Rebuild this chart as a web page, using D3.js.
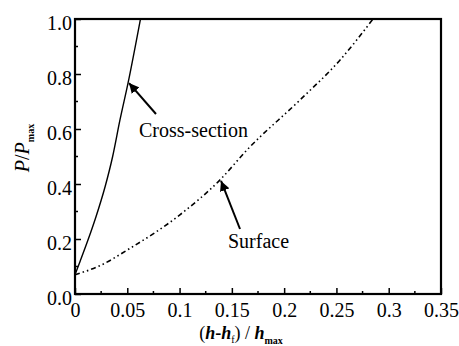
<!DOCTYPE html>
<html><head><meta charset="utf-8">
<script src="https://cdn.jsdelivr.net/npm/d3@7/dist/d3.min.js"></script>
<style>body{margin:0;background:#fff}svg{display:block}</style>
</head><body>
<script>
const crossX = [0, 0.005, 0.0124, 0.02, 0.0287, 0.036, 0.043, 0.0507, 0.0626];
const crossY = [0.07, 0.12, 0.196, 0.28, 0.389, 0.5, 0.633, 0.767, 1.0];
const surfX = [0, 0.025, 0.05, 0.1, 0.1387, 0.1645, 0.215, 0.2535, 0.285];
const surfY = [0.07, 0.105, 0.16, 0.287, 0.415, 0.524, 0.705, 0.851, 1.0];
const xTicks = [0, 0.05, 0.1, 0.15, 0.2, 0.25, 0.3, 0.35];
const xTickLabels = ["0", "0.05", "0.1", "0.15", "0.2", "0.25", "0.3", "0.35"];
const yTicks = [0, 0.2, 0.4, 0.6, 0.8, 1.0];
const yTickLabels = ["0.0", "0.2", "0.4", "0.6", "0.8", "1.0"];
const xMinor = [0.025, 0.075, 0.125, 0.175, 0.225, 0.275, 0.325];
const yMinor = [0.1, 0.3, 0.5, 0.7, 0.9];

const FONT = "Liberation Serif";
const W = 459, H = 346;
const m = {l: 75, r: 18, t: 19, b: 52};
const svg = d3.select("body").append("svg").attr("width", W).attr("height", H);
const x = d3.scaleLinear().domain([0, 0.35]).range([m.l, W - m.r]);
const y = d3.scaleLinear().domain([0, 1]).range([H - m.b, m.t]);

// curves
const line = d3.line().x(d => x(d[0])).y(d => y(d[1])).curve(d3.curveMonotoneX);
svg.append("path").attr("d", line(crossX.map((v, i) => [v, crossY[i]])))
  .attr("fill", "none").attr("stroke", "#000").attr("stroke-width", 1.4);
svg.append("path").attr("d", line(surfX.map((v, i) => [v, surfY[i]])))
  .attr("fill", "none").attr("stroke", "#000").attr("stroke-width", 1.6)
  .attr("stroke-dasharray", "5,3,1.5,3,1.5,3");

// axes
const gx = svg.append("g").attr("transform", `translate(0,${y(0)})`)
  .call(d3.axisBottom(x).tickValues(xTicks).tickFormat((d, i) => xTickLabels[i]).tickSizeInner(-6).tickSizeOuter(0).tickPadding(9));
const gy = svg.append("g").attr("transform", `translate(${x(0)},0)`)
  .call(d3.axisLeft(y).tickValues(yTicks).tickFormat((d, i) => yTickLabels[i]).tickSizeInner(-6).tickSizeOuter(0).tickPadding(3));
[gx, gy].forEach(g => {
  g.select(".domain").remove();
  g.selectAll("line").attr("stroke", "#000").attr("stroke-width", 1.5);
  g.selectAll("text").attr("fill", "#000").attr("font-family", FONT).attr("font-size", 20);
});
gy.selectAll("text").attr("dy", "0.5em");
gx.selectAll("text").attr("dy", "0.7em");
svg.append("g").selectAll("line").data(xMinor).join("line")
  .attr("x1", d => x(d)).attr("x2", d => x(d)).attr("y1", y(0)).attr("y2", y(0) - 3)
  .attr("stroke", "#000").attr("stroke-width", 1.5);
svg.append("g").selectAll("line").data(yMinor).join("line")
  .attr("y1", d => y(d)).attr("y2", d => y(d)).attr("x1", x(0)).attr("x2", x(0) + 3)
  .attr("stroke", "#000").attr("stroke-width", 1.5);

// frame
svg.append("rect").attr("x", x(0)).attr("y", y(1)).attr("width", x(0.35) - x(0)).attr("height", y(0) - y(1))
  .attr("fill", "none").attr("stroke", "#000").attr("stroke-width", 2.2);

// annotations
const defs = svg.append("defs");
defs.append("marker").attr("id", "ah").attr("viewBox", "0 0 10 10").attr("refX", 10).attr("refY", 5)
  .attr("markerWidth", 10).attr("markerHeight", 10).attr("markerUnits", "userSpaceOnUse").attr("orient", "auto")
  .append("path").attr("d", "M0,0 L10,5 L0,10 Z").attr("fill", "#000");
function arrow(x1, y1, x2, y2) {
  svg.append("line").attr("x1", x1).attr("y1", y1).attr("x2", x2).attr("y2", y2)
    .attr("stroke", "#000").attr("stroke-width", 2).attr("marker-end", "url(#ah)");
}
arrow(156, 114, x(0.0507) + 1, y(0.767));
arrow(240, 229, x(0.1387) + 1, y(0.415) + 1);
svg.append("text").attr("x", 139).attr("y", 137).attr("font-family", FONT).attr("font-size", 20).text("Cross-section");
svg.append("text").attr("x", 228).attr("y", 248).attr("font-family", FONT).attr("font-size", 20).text("Surface");

// axis titles
const yt = svg.append("text").attr("transform", "translate(29,148) rotate(-90)").attr("text-anchor", "middle")
  .attr("font-family", FONT).attr("font-size", 20);
yt.append("tspan").attr("font-style", "italic").text("P");
yt.append("tspan").text("/");
yt.append("tspan").attr("font-style", "italic").text("P");
yt.append("tspan").attr("dy", 5).attr("font-size", 10).attr("font-weight", "bold").text("max");

const xt = svg.append("text").attr("x", 241).attr("y", 339).attr("text-anchor", "middle")
  .attr("font-family", FONT).attr("font-size", 18);
xt.append("tspan").text("(");
xt.append("tspan").attr("font-style", "italic").attr("font-weight", "bold").text("h");
xt.append("tspan").attr("font-weight", "bold").text("-");
xt.append("tspan").attr("font-style", "italic").attr("font-weight", "bold").text("h");
xt.append("tspan").attr("dy", 4).attr("font-size", 10).text("f");
xt.append("tspan").attr("dy", -4).text(") / ");
xt.append("tspan").attr("font-style", "italic").attr("font-weight", "bold").text("h");
xt.append("tspan").attr("dy", 5).attr("font-size", 10).attr("font-weight", "bold").text("max");
</script>
</body></html>
